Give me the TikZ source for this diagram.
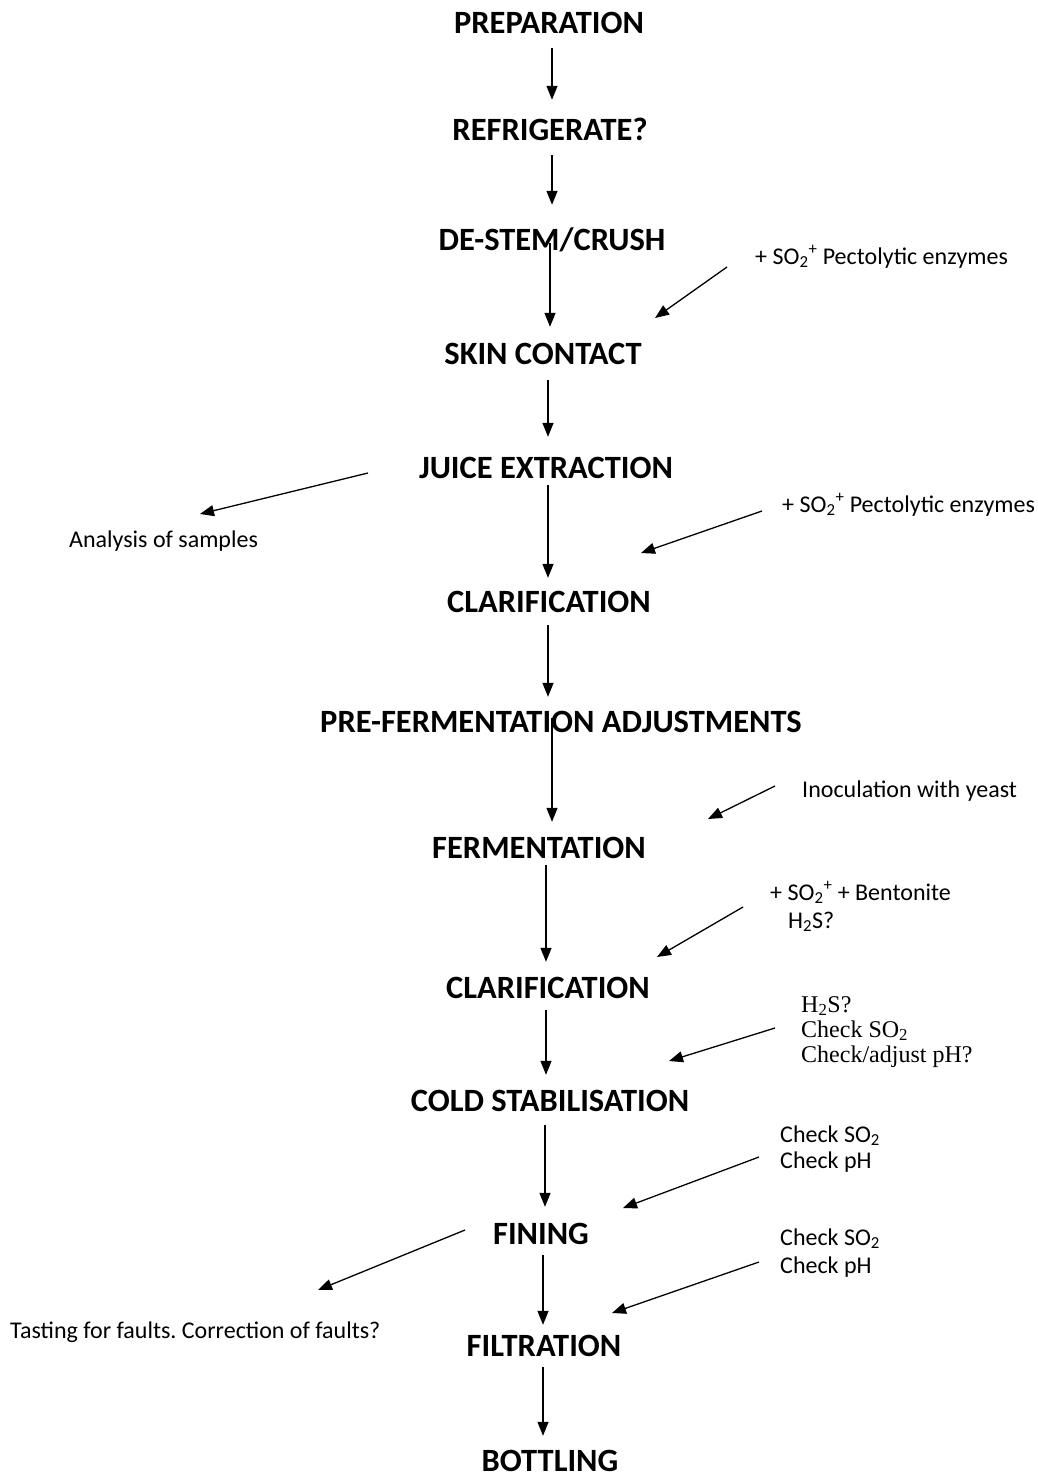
\documentclass[tikz,border=0pt]{standalone}
\usepackage{fontspec}
\setmainfont{Carlito}
\newfontfamily\tnr{Liberation Serif}
\usetikzlibrary{arrows.meta}
\frenchspacing
\tikzset{
  stage/.style={font=\bfseries\fontsize{32.5}{38}\selectfont, inner sep=0pt, text height=20pt, text depth=0pt, anchor=base},
  note/.style={font=\fontsize{24}{28}\selectfont, inner sep=0pt, anchor=base west},
  snote/.style={font=\tnr\fontsize{24}{26}\selectfont, inner sep=0pt, anchor=base west},
  arr/.style={line width=1.3pt, -{Triangle[length=14pt,width=11pt]}}
}
\begin{document}
\frenchspacing
\begin{tikzpicture}[x=1pt,y=-1pt]
\path[use as bounding box, fill=white] (0,0) rectangle (1038,1477);
% stages
\node[stage] (prep)  at (549,34)   {PREPARATION};
\node[stage] (refr)  at (550,141)  {REFRIGERATE?};
\node[stage] (dest)  at (552,250)  {DE-STEM/CRUSH};
\node[stage] (skin)  at (543,364)  {SKIN CONTACT};
\node[stage] (juice) at (546,478)  {JUICE EXTRACTION};
\node[stage] (clar)  at (549,612)  {CLARIFICATION};
\node[stage] (pref)  at (561,732)  {PRE-FERMENTATION ADJUSTMENTS};
\node[stage] (ferm)  at (539,858)  {FERMENTATION};
\node[stage] (clarb) at (548,998)  {CLARIFICATION};
\node[stage] (cold)  at (550,1111) {COLD STABILISATION};
\node[stage] (fin)   at (541,1244) {FINING};
\node[stage] (filt)  at (544,1356) {FILTRATION};
\node[stage] (bott)  at (550,1471) {BOTTLING};
% main arrows
\draw[arr] ([shift={(3,14)}]prep.south)   -- ([shift={(2,-21)}]refr.north);
\draw[arr] ([shift={(2,14)}]refr.south)   -- ([shift={(0,-25)}]dest.north);
\draw[arr] ([shift={(-2,-7)}]dest.south)  -- ([shift={(7,-17)}]skin.north);
\draw[arr] ([shift={(5,16)}]skin.south)   -- ([shift={(2,-21)}]juice.north);
\draw[arr] ([shift={(2,7)}]juice.south)   -- ([shift={(-1,-14)}]clar.north);
\draw[arr] ([shift={(-1,13)}]clar.south)  -- ([shift={(-13,-15)}]pref.north);
\draw[arr] ([shift={(-9,-14)}]pref.south) -- ([shift={(13,-16)}]ferm.north);
\draw[arr] ([shift={(7,7)}]ferm.south)    -- ([shift={(-2,-16)}]clarb.north);
\draw[arr] ([shift={(-2,12)}]clarb.south) -- ([shift={(-4,-16)}]cold.north);
\draw[arr] ([shift={(-5,14)}]cold.south)  -- ([shift={(4,-17)}]fin.north);
\draw[arr] ([shift={(2,11)}]fin.south)    -- ([shift={(-1,-11)}]filt.north);
\draw[arr] ([shift={(-1,11)}]filt.south)  -- ([shift={(-7,-15)}]bott.north);
% side notes
\node[note] (la) at (755,264) {+ SO\textsubscript{2}\textsuperscript{+} Pectolytic enzymes};
\node[note] (lb) at (69,547) {Analysis of samples};
\node[note] (lc) at (782,512) {+ SO\textsubscript{2}\textsuperscript{+} Pectolytic enzymes};
\node[note] (ld) at (802,797) {Inoculation with yeast};
\node[note] (lea) at (770,900) {+ SO\textsubscript{2}\textsuperscript{+} + Bentonite};
\node[note] (leb) at (788,928) {H\textsubscript{2}S?};
\node[snote] (lfa) at (801,1012) {H\textsubscript{2}S?};
\node[snote] (lfb) at (801,1037) {Check SO\textsubscript{2}};
\node[snote] (lfc) at (801,1062) {Check/adjust pH?};
\node[note] (lga) at (780,1142) {Check SO\textsubscript{2}};
\node[note] (lgb) at (780,1168) {Check pH};
\node[note] (lha) at (780,1245) {Check SO\textsubscript{2}};
\node[note] (lhb) at (780,1273) {Check pH};
\node[note] (li) at (10,1338) {Tasting for faults. Correction of faults?};
% side arrows
\coordinate (sa) at (727,267);  \coordinate (ta) at (655,318);
\coordinate (sb) at (368,473);  \coordinate (tb) at (200,514);
\coordinate (sc) at (762,511);  \coordinate (tc) at (641,553);
\coordinate (sd) at (775,786);  \coordinate (td) at (708,819);
\coordinate (se) at (743,907);  \coordinate (te) at (657,957);
\coordinate (sf) at (775,1028); \coordinate (tf) at (669,1061);
\coordinate (sg) at (759,1157); \coordinate (tg) at (623,1208);
\coordinate (sh) at (759,1262); \coordinate (th) at (612,1313);
\coordinate (si) at (465,1230); \coordinate (ti) at (318,1290);
\draw[arr] (sa) -- (ta);
\draw[arr] (sb) -- (tb);
\draw[arr] (sc) -- (tc);
\draw[arr] (sd) -- (td);
\draw[arr] (se) -- (te);
\draw[arr] (sf) -- (tf);
\draw[arr] (sg) -- (tg);
\draw[arr] (sh) -- (th);
\draw[arr] (si) -- (ti);
\end{tikzpicture}
\end{document}
